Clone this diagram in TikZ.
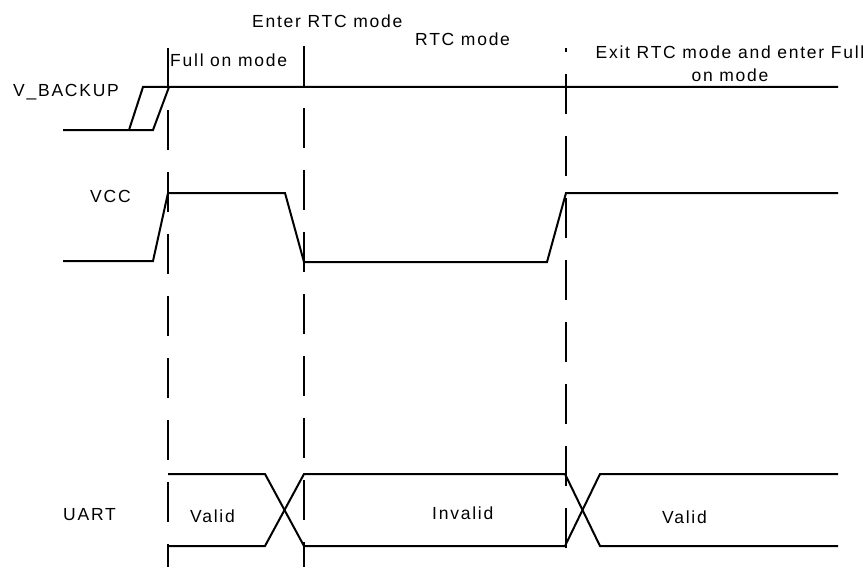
\documentclass[tikz,border=0pt]{standalone}
\usepackage{fontspec}
\setmainfont[LetterSpace=10]{Liberation Sans}
\usetikzlibrary{positioning}

\begin{document}
\begin{tikzpicture}[
  x=1pt, y=-1pt,
  sig/.style = {line width=2pt, line join=miter},
  cut/.style = {line width=2pt, dash pattern=on 40pt off 22pt},
  lbl/.style = {inner sep=0pt, anchor=base west,
    font=\fontsize{17.5}{23}\selectfont}
]
\useasboundingbox (0,0) rectangle (866,567);

% Marcas de cambio de modo
\draw[cut, dash phase=0pt]  (168,48) -- (168,567);
\draw[cut, dash phase=0pt]  (304,46) -- (304,567);
\draw[cut, dash phase=36pt] (566,48) -- (566,567);

% Etiquetas de modo
\node[lbl] (full)  at (170,67) {Full on mode};
\node[lbl] (enter) at (252,28) {Enter RTC mode};
\node[lbl] (rtc)   at (415,46) {RTC mode};
\node[lbl, anchor=base, align=center] (exit) at (730,82)
  {Exit RTC mode and enter Full\\on mode};

% Señales
\node[lbl] (vbak) at (13,97)  {V\_BACKUP};
\node[lbl] (vcc)  at (90,202) {VCC};
\node[lbl] (uart) at (63,520) {UART};

% V_BACKUP
\draw[sig] (63,130) -- (153,130) -- (169,87);
\draw[sig] (129,130) -- (143,87) -- (838,87);

% VCC
\draw[sig] (63,261) -- (153,261) -- (168,193) -- (285,193) -- (304,262)
  -- (547,262) -- (566,193) -- (838,193);

% UART
\draw[sig] (168,474) -- (265,474) -- (304,546) -- (565,546) -- (600,474) -- (838,474);
\draw[sig] (168,546) -- (265,546) -- (304,474) -- (565,474) -- (600,546) -- (838,546);
\node[lbl] (ok1) at (190,522) {Valid};
\node[lbl] (bad) at (432,519) {Invalid};
\node[lbl] (ok2) at (662,523) {Valid};

\end{tikzpicture}
\end{document}
